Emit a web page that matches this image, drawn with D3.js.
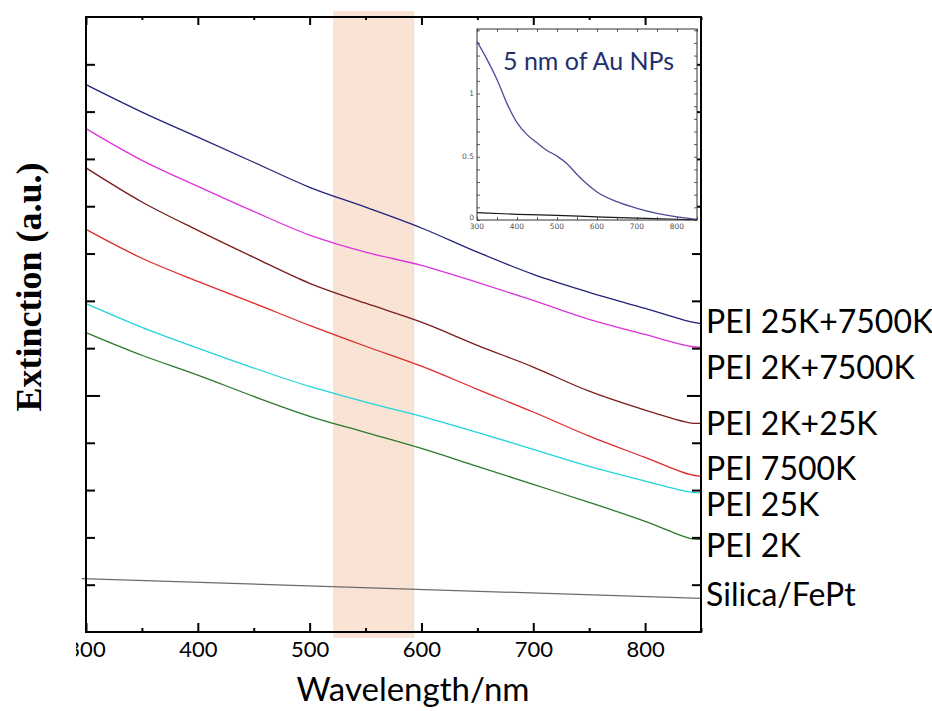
<!DOCTYPE html>
<html>
<head>
<meta charset="utf-8">
<script src="https://cdn.jsdelivr.net/npm/d3@7"></script>
<style>
body { margin: 0; background: #fff; }
svg { display: block; }
</style>
</head>
<body>
<div id="chart"></div>
<script>
// main chart data (extinction, arbitrary units)
const wavelengths = [300, 350, 400, 450, 500, 550, 600, 650, 700, 750, 800, 840, 850]
const pei25k7500k = [11.57, 10.99, 10.46, 9.93, 9.40, 8.98, 8.54, 8.03, 7.56, 7.18, 6.84, 6.56, 6.52]
const pei2k7500k = [10.64, 9.97, 9.42, 8.89, 8.39, 8.03, 7.75, 7.39, 7.01, 6.61, 6.29, 6.04, 6.02]
const pei2k25k = [9.81, 9.09, 8.49, 7.92, 7.37, 6.95, 6.55, 6.06, 5.60, 5.09, 4.69, 4.42, 4.41]
const pei7500k = [8.51, 7.90, 7.41, 6.95, 6.48, 6.04, 5.62, 5.13, 4.65, 4.14, 3.69, 3.33, 3.29]
const pei25k = [6.94, 6.44, 6.00, 5.58, 5.19, 4.86, 4.56, 4.22, 3.86, 3.50, 3.19, 2.96, 2.94]
const pei2k = [6.33, 5.85, 5.43, 4.98, 4.56, 4.22, 3.88, 3.50, 3.12, 2.74, 2.34, 1.98, 1.96]
const silicaWavelengths = [296, 850]
const silicaFePt = [1.13, 0.71]

const seriesNames = ["PEI 25K+7500K", "PEI 2K+7500K", "PEI 2K+25K", "PEI 7500K", "PEI 25K", "PEI 2K", "Silica/FePt"]
const seriesColors = ["#22227a", "#dd33dd", "#7b1c1c", "#e02b2b", "#22d4dc", "#2a7a2a", "#6b6b6b"]
// where each name sits on the right, in y units
const labelAnchors = [6.32, 5.34, 4.16, 3.22, 2.45, 1.59, 0.54]

const bandRange = [521, 593]
const xMajorTicks = [300, 400, 500, 600, 700, 800]
const xMinorTicks = [350, 450, 550, 650, 750, 850]
const yTicks = [1, 2, 3, 4, 5, 6, 7, 8, 9, 10, 11, 12]
const yMajorTick = 5

// inset: 5 nm Au NPs absorbance
const insetWavelengths = [300, 325, 350, 375, 400, 425, 450, 475, 500, 525, 550, 575, 600, 650, 700, 750, 800, 850]
const insetAuNPs = [1.41, 1.27, 1.11, 0.92, 0.77, 0.675, 0.61, 0.55, 0.505, 0.445, 0.36, 0.285, 0.222, 0.145, 0.092, 0.052, 0.024, 0.005]
const insetBaseWavelengths = [300, 400, 500, 600, 700, 800, 850]
const insetBase = [0.058, 0.045, 0.036, 0.025, 0.015, 0.006, 0.002]
const insetXTicks = [300, 400, 500, 600, 700, 800]
const insetYLabels = [0, 0.5, 1]
const insetTitle = "5 nm of Au NPs"

const mainSeries = [pei25k7500k, pei2k7500k, pei2k25k, pei7500k, pei25k, pei2k]

const dimensions = {
    width: 932,
    height: 711,
    margin: { top: 17, right: 231, bottom: 79, left: 86 },
}
dimensions.boundedWidth = dimensions.width - dimensions.margin.left - dimensions.margin.right
dimensions.boundedHeight = dimensions.height - dimensions.margin.top - dimensions.margin.bottom

const wrapper = d3.select("#chart")
    .append("svg")
    .attr("width", dimensions.width)
    .attr("height", dimensions.height)

const bounds = wrapper.append("g")
    .attr("transform", `translate(${dimensions.margin.left},${dimensions.margin.top})`)

const xScale = d3.scaleLinear()
    .domain([300, 850])
    .range([0, dimensions.boundedWidth])

const yScale = d3.scaleLinear()
    .domain([0, 13])
    .range([dimensions.boundedHeight, 0])

// shaded band, sticks out a little past the frame
bounds.append("rect")
    .attr("x", xScale(bandRange[0]))
    .attr("y", -6)
    .attr("width", xScale(bandRange[1]) - xScale(bandRange[0]))
    .attr("height", dimensions.boundedHeight + 12)
    .attr("fill", "#f9e3d5")
bounds.append("line")
    .attr("x1", xScale(bandRange[1])).attr("x2", xScale(bandRange[1]))
    .attr("y1", -6).attr("y2", dimensions.boundedHeight + 6)
    .attr("stroke", "#e6dcd6")

const lineGenerator = d3.line()
    .x(d => xScale(d[0]))
    .y(d => yScale(d[1]))
    .curve(d3.curveCatmullRom.alpha(0.5))

mainSeries.forEach((vals, i) => {
    bounds.append("path")
        .attr("d", lineGenerator(wavelengths.map((w, j) => [w, vals[j]])))
        .attr("fill", "none")
        .attr("stroke", seriesColors[i])
        .attr("stroke-width", 1.3)
})
bounds.append("path")
    .attr("d", lineGenerator(silicaWavelengths.map((w, j) => [w, silicaFePt[j]])))
    .attr("fill", "none")
    .attr("stroke", seriesColors[6])
    .attr("stroke-width", 1.3)

// axes, all ticks point inward
function styleTicks(g, width) {
    g.select(".domain").remove()
    g.selectAll(".tick line").attr("stroke", "#000").attr("stroke-width", width)
}

bounds.append("g")
    .call(d3.axisLeft(yScale).tickValues(yTicks.filter(v => v != yMajorTick)).tickSize(-9).tickFormat(""))
    .call(g => styleTicks(g, 2))
bounds.append("g")
    .call(d3.axisLeft(yScale).tickValues([yMajorTick]).tickSize(-14).tickFormat(""))
    .call(g => styleTicks(g, 2))
bounds.append("g")
    .attr("transform", `translate(${dimensions.boundedWidth},0)`)
    .call(d3.axisRight(yScale).tickValues(yTicks.filter(v => v != yMajorTick)).tickSize(-9).tickFormat(""))
    .call(g => styleTicks(g, 2))
bounds.append("g")
    .attr("transform", `translate(${dimensions.boundedWidth},0)`)
    .call(d3.axisRight(yScale).tickValues([yMajorTick]).tickSize(-14).tickFormat(""))
    .call(g => styleTicks(g, 2))

bounds.append("g")
    .call(d3.axisTop(xScale).tickValues(xMajorTicks).tickSize(-8).tickFormat(""))
    .call(g => styleTicks(g, 2))
bounds.append("g")
    .call(d3.axisTop(xScale).tickValues(xMinorTicks).tickSize(-3).tickFormat(""))
    .call(g => styleTicks(g, 2))

// the 300 label is cut on its left side in the original
bounds.append("clipPath")
    .attr("id", "xlabel-clip")
    .append("rect")
    .attr("x", -10).attr("y", -20)
    .attr("width", dimensions.boundedWidth + 60).attr("height", 80)

const xAxis = bounds.append("g")
    .attr("transform", `translate(0,${dimensions.boundedHeight})`)
    .attr("clip-path", "url(#xlabel-clip)")
    .call(d3.axisBottom(xScale).tickValues(xMajorTicks).tickSize(-9).tickPadding(9))
    .call(g => styleTicks(g, 2))
xAxis.selectAll("text")
    .attr("font-family", "Lato, 'Open Sans', sans-serif")
    .attr("font-size", 22)
    .attr("fill", "#000")
bounds.append("g")
    .attr("transform", `translate(0,${dimensions.boundedHeight})`)
    .call(d3.axisBottom(xScale).tickValues(xMinorTicks).tickSize(-4).tickFormat(""))
    .call(g => styleTicks(g, 2))

// frame
bounds.append("rect")
    .attr("width", dimensions.boundedWidth)
    .attr("height", dimensions.boundedHeight)
    .attr("fill", "none")
    .attr("stroke", "#000")
    .attr("stroke-width", 2)

// series names on the right
bounds.selectAll(".series-label")
    .data(seriesNames)
    .join("text")
    .attr("class", "series-label")
    .attr("x", dimensions.boundedWidth + 5)
    .attr("y", (d, i) => yScale(labelAnchors[i]))
    .attr("font-family", "Lato, 'Open Sans', sans-serif")
    .attr("font-size", 32)
    .attr("fill", "#000")
    .text(d => d)

// axis titles
wrapper.append("text")
    .attr("x", 413)
    .attr("y", 701)
    .attr("text-anchor", "middle")
    .attr("font-family", "Lato, 'Open Sans', sans-serif")
    .attr("font-size", 33)
    .attr("fill", "#000")
    .text("Wavelength/nm")

wrapper.append("text")
    .attr("transform", "translate(41,287) rotate(-90)")
    .attr("text-anchor", "middle")
    .attr("font-family", "'Liberation Serif', 'Times New Roman', serif")
    .attr("font-weight", "bold")
    .attr("font-size", 36)
    .attr("fill", "#000")
    .text("Extinction (a.u.)")

// inset
const inset = wrapper.append("g")
const insetX = d3.scaleLinear().domain([300, 850]).range([477, 697])
const insetY = d3.scaleLinear().domain([0, 1.51]).range([220, 29])

inset.append("rect")
    .attr("x", insetX.range()[0])
    .attr("y", insetY.range()[1])
    .attr("width", insetX.range()[1] - insetX.range()[0])
    .attr("height", insetY.range()[0] - insetY.range()[1])
    .attr("fill", "#fff")

const insetLine = d3.line()
    .x(d => insetX(d[0]))
    .y(d => insetY(d[1]))
    .curve(d3.curveMonotoneX)

inset.append("path")
    .attr("d", insetLine(insetBaseWavelengths.map((w, j) => [w, insetBase[j]])))
    .attr("fill", "none")
    .attr("stroke", "#1a1a1a")
    .attr("stroke-width", 1.2)
inset.append("path")
    .attr("d", insetLine(insetWavelengths.map((w, j) => [w, insetAuNPs[j]])))
    .attr("fill", "none")
    .attr("stroke", "#4b4b98")
    .attr("stroke-width", 1.3)

const insetYTicks = d3.range(0, 1.51, 0.1)
const insetXAllTicks = d3.range(300, 851, 50)
function thinTicks(g) {
    g.select(".domain").remove()
    g.selectAll(".tick line").attr("stroke", "#333").attr("stroke-width", 0.8)
}
inset.append("g")
    .attr("transform", `translate(${insetX.range()[0]},0)`)
    .call(d3.axisLeft(insetY).tickValues(insetYTicks).tickSize(-3).tickFormat(""))
    .call(thinTicks)
inset.append("g")
    .attr("transform", `translate(${insetX.range()[1]},0)`)
    .call(d3.axisRight(insetY).tickValues(insetYTicks).tickSize(-3).tickFormat(""))
    .call(thinTicks)
inset.append("g")
    .attr("transform", `translate(0,${insetY.range()[0]})`)
    .call(d3.axisBottom(insetX).tickValues(insetXAllTicks).tickSize(-3).tickFormat(""))
    .call(thinTicks)
inset.append("g")
    .attr("transform", `translate(0,${insetY.range()[1]})`)
    .call(d3.axisTop(insetX).tickValues(insetXAllTicks).tickSize(-3).tickFormat(""))
    .call(thinTicks)

inset.selectAll(".inset-xlabel")
    .data(insetXTicks)
    .join("text")
    .attr("class", "inset-xlabel")
    .attr("x", d => insetX(d))
    .attr("y", insetY(0) + 9)
    .attr("text-anchor", "middle")
    .attr("font-family", "'DejaVu Sans', sans-serif")
    .attr("font-size", 7.5)
    .attr("fill", "#555")
    .text(d => d)
inset.selectAll(".inset-ylabel")
    .data(insetYLabels)
    .join("text")
    .attr("class", "inset-ylabel")
    .attr("x", insetX.range()[0] - 3)
    .attr("y", d => insetY(d) + (d == 0 ? 0 : 2))
    .attr("text-anchor", "end")
    .attr("font-family", "'DejaVu Sans', sans-serif")
    .attr("font-size", 7.5)
    .attr("fill", "#555")
    .text(d => d)

inset.append("rect")
    .attr("x", insetX.range()[0])
    .attr("y", insetY.range()[1])
    .attr("width", insetX.range()[1] - insetX.range()[0])
    .attr("height", insetY.range()[0] - insetY.range()[1])
    .attr("fill", "none")
    .attr("stroke", "#333")
    .attr("stroke-width", 1)

inset.append("text")
    .attr("x", 503)
    .attr("y", 70)
    .attr("font-family", "Lato, 'Open Sans', sans-serif")
    .attr("font-size", 25)
    .attr("fill", "#1f3070")
    .text(insetTitle)
</script>
</body>
</html>
